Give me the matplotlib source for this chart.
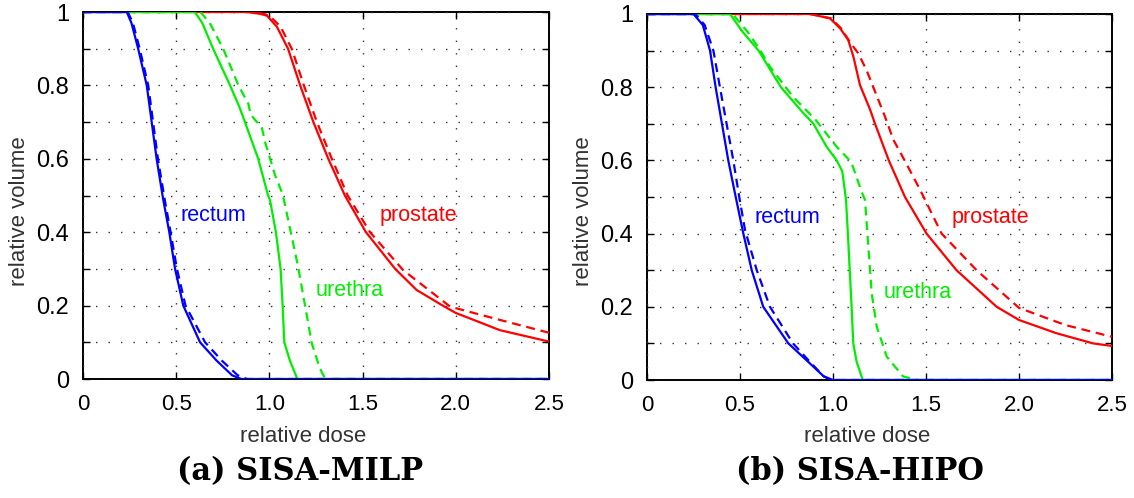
import matplotlib
matplotlib.use("Agg")
import matplotlib.pyplot as plt

plt.rcParams['font.family'] = ['Liberation Sans', 'DejaVu Sans']

# ---------------- data: (a) SISA-MILP ----------------
a_rectum_x = [0, 0.235, 0.26, 0.296, 0.342, 0.395, 0.43, 0.463, 0.494, 0.538, 0.628, 0.717, 0.80, 0.85, 2.5]
a_rectum_y = [1, 1, 0.97, 0.9, 0.8, 0.6, 0.49, 0.4, 0.3, 0.2, 0.1, 0.05, 0.01, 0, 0]
a_rectum_dx = [0, 0.24, 0.268, 0.304, 0.35, 0.402, 0.438, 0.47, 0.504, 0.55, 0.655, 0.745, 0.83, 0.88, 2.5]
a_rectum_dy = [1, 1, 0.97, 0.9, 0.8, 0.6, 0.49, 0.4, 0.3, 0.2, 0.1, 0.05, 0.01, 0, 0]

a_urethra_x = [0, 0.60, 0.64, 0.698, 0.789, 0.84, 0.869, 0.94, 0.993, 1.003, 1.035, 1.06, 1.071, 1.08, 1.11, 1.15, 2.5]
a_urethra_y = [1, 1, 0.97, 0.9, 0.8, 0.74, 0.7, 0.6, 0.5, 0.488, 0.4, 0.3, 0.2, 0.1, 0.05, 0, 0]
a_urethra_dx = [0, 0.63, 0.68, 0.752, 0.834, 0.887, 0.90, 0.96, 0.976, 1.03, 1.066, 1.078, 1.154, 1.227, 1.27, 1.30, 2.5]
a_urethra_dy = [1, 1, 0.97, 0.9, 0.8, 0.75, 0.72, 0.684, 0.647, 0.556, 0.51, 0.488, 0.306, 0.098, 0.03, 0, 0]

a_prostate_x = [0, 0.88, 0.95, 0.987, 1.04, 1.10, 1.165, 1.236, 1.316, 1.405, 1.518, 1.675, 1.79, 1.93, 2.0, 2.237, 2.5]
a_prostate_y = [1, 1, 0.995, 0.99, 0.96, 0.9, 0.8, 0.7, 0.6, 0.5, 0.4, 0.3, 0.2425, 0.2, 0.18, 0.133, 0.102]
a_prostate_dx = [0, 0.90, 0.97, 1.0, 1.06, 1.12, 1.185, 1.255, 1.335, 1.42, 1.54, 1.717, 1.97, 2.237, 2.5]
a_prostate_dy = [1, 1, 0.995, 0.99, 0.96, 0.9, 0.8, 0.7, 0.6, 0.5, 0.4, 0.297, 0.197, 0.161, 0.126]

# ---------------- data: (b) SISA-HIPO ----------------
b_rectum_x = [0, 0.25, 0.30, 0.339, 0.369, 0.437, 0.477, 0.518, 0.563, 0.625, 0.76, 0.866, 0.95, 1.0, 2.5]
b_rectum_y = [1, 1, 0.97, 0.9, 0.8, 0.6, 0.5, 0.4, 0.3, 0.2, 0.1, 0.05, 0.01, 0, 0]
b_rectum_dx = [0, 0.26, 0.31, 0.357, 0.392, 0.464, 0.496, 0.527, 0.59, 0.661, 0.785, 0.875, 0.95, 0.99, 2.5]
b_rectum_dy = [1, 1, 0.97, 0.9, 0.8, 0.6, 0.5, 0.41, 0.3, 0.2, 0.1, 0.05, 0.01, 0, 0]

b_urethra_x = [0, 0.446, 0.516, 0.60, 0.72, 0.839, 0.895, 0.966, 1.02, 1.05, 1.07, 1.08, 1.10, 1.109, 1.127, 1.16, 2.5]
b_urethra_y = [1, 1, 0.95, 0.9, 0.8, 0.73, 0.7, 0.637, 0.6, 0.57, 0.492, 0.4, 0.2, 0.1, 0.05, 0, 0]
b_urethra_dx = [0, 0.46, 0.543, 0.61, 0.661, 0.785, 0.903, 1.02, 1.09, 1.107, 1.154, 1.172, 1.208, 1.235, 1.289, 1.376, 1.45, 2.5]
b_urethra_dy = [1, 1, 0.95, 0.9, 0.856, 0.774, 0.713, 0.637, 0.6, 0.583, 0.514, 0.492, 0.237, 0.146, 0.064, 0.01, 0, 0]

b_prostate_x = [0, 0.876, 0.984, 1.038, 1.082, 1.11, 1.145, 1.2, 1.226, 1.30, 1.387, 1.503, 1.664, 1.88, 2.0, 2.2, 2.398, 2.5]
b_prostate_y = [1, 1, 0.988, 0.961, 0.929, 0.883, 0.806, 0.738, 0.7, 0.6, 0.5, 0.4, 0.3, 0.2, 0.164, 0.128, 0.1, 0.093]
b_prostate_dx = [0, 0.88, 0.99, 1.045, 1.09, 1.135, 1.18, 1.216, 1.28, 1.325, 1.385, 1.468, 1.584, 1.772, 2.0, 2.25, 2.5]
b_prostate_dy = [1, 1, 0.988, 0.96, 0.924, 0.893, 0.847, 0.801, 0.719, 0.656, 0.6, 0.52, 0.4, 0.3, 0.197, 0.15, 0.118]

x_ticks = [0, 0.5, 1.0, 1.5, 2.0, 2.5]
x_ticklabels = ['0', '0.5', '1.0', '1.5', '2.0', '2.5']
y_ticks = [0, 0.1, 0.2, 0.3, 0.4, 0.5, 0.6, 0.7, 0.8, 0.9, 1.0]
y_ticklabels = ['0', '', '0.2', '', '0.4', '', '0.6', '', '0.8', '', '1']

panel_titles = ['(a) SISA-MILP', '(b) SISA-HIPO']
organ_colors = {'rectum': '#0000ff', 'urethra': '#00ee00', 'prostate': '#ff0000'}

panels = [
    {
        'prostate': (a_prostate_x, a_prostate_y, a_prostate_dx, a_prostate_dy),
        'urethra': (a_urethra_x, a_urethra_y, a_urethra_dx, a_urethra_dy),
        'rectum': (a_rectum_x, a_rectum_y, a_rectum_dx, a_rectum_dy),
        'labels': {'rectum': (0.70, 0.445), 'prostate': (1.80, 0.445), 'urethra': (1.43, 0.24)},
    },
    {
        'prostate': (b_prostate_x, b_prostate_y, b_prostate_dx, b_prostate_dy),
        'urethra': (b_urethra_x, b_urethra_y, b_urethra_dx, b_urethra_dy),
        'rectum': (b_rectum_x, b_rectum_y, b_rectum_dx, b_rectum_dy),
        'labels': {'rectum': (0.753, 0.445), 'prostate': (1.844, 0.445), 'urethra': (1.457, 0.24)},
    },
]

fig = plt.figure(figsize=(11.34, 4.98), dpi=100)
axes_rects = [
    [83 / 1134, 1 - 379 / 498, 466 / 1134, 367 / 498],
    [647 / 1134, 1 - 380 / 498, 465 / 1134, 366 / 498],
]
title_x = [300 / 1134, 860 / 1134]
xlabel_x = [0.472, 0.473]
ylabel_y = [0.458, 0.462]

for i, (rect, panel) in enumerate(zip(axes_rects, panels)):
    ax = fig.add_axes(rect)
    for organ in ['prostate', 'urethra', 'rectum']:
        xs, ys, dxs, dys = panel[organ]
        c = organ_colors[organ]
        ax.plot(xs, ys, color=c, lw=1.6, solid_joinstyle='round')
        ax.plot(dxs, dys, color=c, lw=1.6, linestyle=(0, (4, 2.6)))
    for organ, (lx, ly) in panel['labels'].items():
        ax.text(lx, ly, organ, color=organ_colors[organ], fontsize=15.5,
                ha='center', va='center')
    ax.set_xlim(0, 2.5)
    ax.set_ylim(0, 1)
    ax.set_xticks(x_ticks)
    ax.set_xticklabels(x_ticklabels)
    ax.set_yticks(y_ticks)
    ax.set_yticklabels(y_ticklabels)
    ax.tick_params(direction='in', top=True, right=True, length=5, width=1,
                   colors='black')
    ax.tick_params(axis='x', labelsize=16, pad=11)
    ax.tick_params(axis='y', labelsize=17, pad=10)
    ax.grid(True, color='#333333', linestyle=(0, (1, 8)), linewidth=1.0)
    for sp in ax.spines.values():
        sp.set_linewidth(1.4)
        sp.set_zorder(0.5)
    ax.set_xlabel('relative dose', fontsize=16, color='#333333')
    ax.set_ylabel('relative volume', fontsize=16, color='#333333')
    ax.xaxis.set_label_coords(xlabel_x[i], -(436 - 379) / 367, transform=ax.transAxes)
    ax.xaxis.label.set_va('center')
    ax.yaxis.set_label_coords(-(83 - 19) / 466, ylabel_y[i], transform=ax.transAxes)
    ax.yaxis.label.set_va('center')
    fig.text(title_x[i], 1 - 472 / 498, panel_titles[i], family='DejaVu Serif',
             fontweight='bold', fontsize=22, ha='center', va='center')

fig.savefig('out.png', dpi=100)
